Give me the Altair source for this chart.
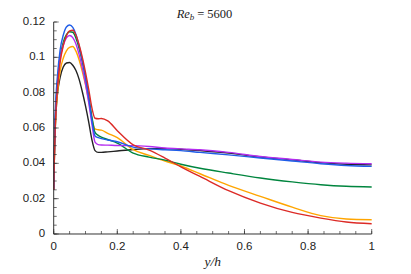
import altair as alt
import pandas as pd

X = [0, 0.003, 0.007, 0.012, 0.02, 0.03, 0.04, 0.05, 0.06, 0.07, 0.08, 0.09, 0.1, 0.11, 0.12,
     0.13, 0.14, 0.15, 0.17, 0.2, 0.25, 0.3, 0.35, 0.4, 0.46, 0.55, 0.65, 0.75, 0.84, 0.92, 1.0]

black = [0.025, 0.05, 0.068, 0.0795, 0.0885, 0.0945, 0.0968, 0.0971, 0.0955, 0.0925, 0.0875, 0.0805,
         0.0725, 0.0635, 0.0535, 0.0472, 0.0462, 0.0462, 0.0465, 0.047, 0.0478, 0.0483, 0.0483, 0.048,
         0.0472, 0.0458, 0.0436, 0.042, 0.0404, 0.0395, 0.0391]
orange = [0.025, 0.05, 0.068, 0.08, 0.092, 0.0995, 0.1037, 0.1057, 0.1061, 0.1035, 0.0985, 0.092,
          0.0845, 0.0755, 0.0655, 0.0595, 0.059, 0.0588, 0.057, 0.0545, 0.0477, 0.0445, 0.0413, 0.0385,
          0.0341, 0.0275, 0.0213, 0.0152, 0.0104, 0.0085, 0.0081]
green = [0.025, 0.053, 0.073, 0.086, 0.1, 0.1085, 0.1128, 0.1145, 0.1142, 0.1108, 0.105, 0.0975,
         0.0885, 0.078, 0.0665, 0.0575, 0.0558, 0.0548, 0.0535, 0.0515, 0.0458, 0.0435, 0.0418, 0.0395,
         0.0372, 0.0345, 0.0317, 0.0295, 0.0279, 0.027, 0.0266]
purple = [0.025, 0.053, 0.072, 0.085, 0.099, 0.1068, 0.111, 0.1124, 0.1112, 0.1075, 0.1015, 0.094,
          0.085, 0.0745, 0.0625, 0.052, 0.0506, 0.0504, 0.0503, 0.0501, 0.05, 0.0495, 0.0487, 0.0482,
          0.0477, 0.0462, 0.0439, 0.0422, 0.0407, 0.0401, 0.0398]
blue = [0.026, 0.058, 0.077, 0.09, 0.104, 0.1125, 0.1172, 0.1183, 0.117, 0.113, 0.1065, 0.0985,
        0.089, 0.0775, 0.0645, 0.0555, 0.0545, 0.054, 0.0532, 0.0522, 0.0492, 0.0482, 0.0477, 0.0472,
        0.0462, 0.0448, 0.043, 0.0413, 0.0398, 0.0388, 0.0383]
red = [0.025, 0.05, 0.07, 0.083, 0.097, 0.1065, 0.1122, 0.115, 0.1153, 0.1125, 0.107, 0.1,
       0.0915, 0.082, 0.0715, 0.0655, 0.0652, 0.0654, 0.064, 0.0585, 0.0505, 0.0475, 0.043, 0.038,
       0.0326, 0.0245, 0.0175, 0.0122, 0.009, 0.0068, 0.0058]

series_names = ["black", "orange", "green", "purple", "blue", "red"]
series_values = [black, orange, green, purple, blue, red]
series_colors = ["#222222", "#ffa500", "#00853e", "#b42df0", "#1f5de8", "#dc2a26"]

x_major = [0, 0.2, 0.4, 0.6, 0.8, 1.0]
x_labels = ["0", "0.2", "0.4", "0.6", "0.8", "1"]
x_minor = [round(i * 0.05, 3) for i in range(21)]
y_major = [0, 0.02, 0.04, 0.06, 0.08, 0.1, 0.12]
y_labels = ["0", "0.02", "0.04", "0.06", "0.08", "0.1", "0.12"]
y_minor = [round(i * 0.005, 4) for i in range(25)]

rows = []
for name, vals in zip(series_names, series_values):
    for i, (xv, yv) in enumerate(zip(X, vals)):
        rows.append({"x": xv, "v": yv, "s": name, "i": i})
df = pd.DataFrame(rows)

W, H = 318, 212
AX = "#333333"
xs = alt.Scale(domain=[0, 1], nice=False, zero=False)
ys = alt.Scale(domain=[0, 0.12], nice=False, zero=False)

lines = alt.Chart(df).mark_line(strokeWidth=1.4, interpolate="monotone").encode(
    x=alt.X("x:Q", scale=xs, axis=None),
    y=alt.Y("v:Q", scale=ys, axis=None),
    color=alt.Color("s:N", scale=alt.Scale(domain=series_names, range=series_colors), legend=None),
    order=alt.Order("i:Q"),
    detail="s:N",
)

ydf = pd.DataFrame({"t": y_major, "lab": y_labels})
xdf = pd.DataFrame({"t": x_major, "lab": x_labels})
ymin_df = pd.DataFrame({"m": y_minor})
xmin_df = pd.DataFrame({"m": x_minor})

ytick_major = alt.Chart(ydf).mark_tick(color=AX, orient="horizontal", size=5, thickness=1).encode(
    y=alt.Y("t:Q", scale=ys, axis=None), x=alt.value(2.5))
ytick_minor = alt.Chart(ymin_df).mark_tick(color=AX, orient="horizontal", size=3, thickness=1).encode(
    y=alt.Y("m:Q", scale=ys, axis=None), x=alt.value(1.5))
xtick_major = alt.Chart(xdf).mark_tick(color=AX, orient="vertical", size=5, thickness=1).encode(
    x=alt.X("t:Q", scale=xs, axis=None), y=alt.value(H - 2.5))
xtick_minor = alt.Chart(xmin_df).mark_tick(color=AX, orient="vertical", size=3, thickness=1).encode(
    x=alt.X("m:Q", scale=xs, axis=None), y=alt.value(H - 1.5))

one = alt.Data(values=[{"a": 1}])
ydomain = alt.Chart(one).mark_rule(color=AX, strokeWidth=1).encode(
    x=alt.value(0), y=alt.value(0), y2=alt.value(H))
xdomain = alt.Chart(one).mark_rule(color=AX, strokeWidth=1).encode(
    x=alt.value(0), x2=alt.value(W), y=alt.value(H))

ylab = alt.Chart(ydf).mark_text(
    font="Liberation Sans", fontSize=11.5, color="#222222", align="right", baseline="middle").encode(
    y=alt.Y("t:Q", scale=ys, axis=None), x=alt.value(-8.5), text="lab:N")
xlab = alt.Chart(xdf).mark_text(
    font="Liberation Sans", fontSize=11.5, color="#222222", align="center", baseline="middle").encode(
    x=alt.X("t:Q", scale=xs, axis=None), y=alt.value(H + 13.5), text="lab:N")

xtitle = alt.Chart(one).mark_text(text="y/h", font="Liberation Serif", fontStyle="italic", fontSize=13.5,
                                  align="center", baseline="alphabetic", color="#222222").encode(
    x=alt.value(W / 2), y=alt.value(H + 32.5))

t_re = alt.Chart(one).mark_text(text="Re", font="Liberation Serif", fontStyle="italic", fontSize=12.5,
                                align="left", baseline="alphabetic", color="#222222").encode(
    x=alt.value(123), y=alt.value(-4.5))
t_b = alt.Chart(one).mark_text(text="b", font="Liberation Serif", fontStyle="italic", fontSize=9,
                               align="left", baseline="alphabetic", color="#222222").encode(
    x=alt.value(136), y=alt.value(-2))
t_eq = alt.Chart(one).mark_text(text="= 5600", font="Liberation Serif", fontSize=12.5,
                                align="left", baseline="alphabetic", color="#222222").encode(
    x=alt.value(143.5), y=alt.value(-4.5))

chart = alt.layer(lines, ytick_minor, ytick_major, xtick_minor, xtick_major, ydomain, xdomain,
                  ylab, xlab, xtitle, t_re, t_b, t_eq).properties(
    width=W, height=H,
    autosize=alt.AutoSizeParams(type="none"),
    padding={"left": 45.7, "top": 14, "right": 30, "bottom": 36},
).configure_view(stroke=None)

chart.save("out.html", embed_options={"renderer": "svg", "actions": False})
